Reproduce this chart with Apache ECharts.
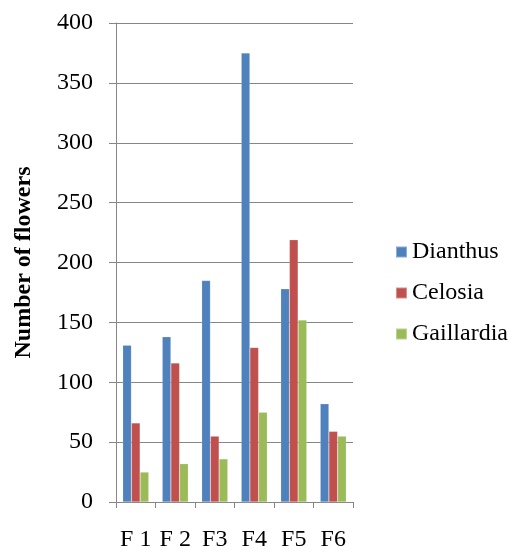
<!DOCTYPE html>
<html><head><meta charset="utf-8">
<script src="https://cdn.jsdelivr.net/npm/echarts@6/dist/echarts.min.js"></script>
<style>html,body{margin:0;padding:0;background:#fff}#c{width:508px;height:552px}</style>
</head><body><div id="c"></div>
<script>
var categories = ['F 1', 'F 2', 'F3', 'F4', 'F5', 'F6'];
var dianthus = [131, 138, 185, 375, 178, 82];
var celosia = [66, 116, 55, 129, 219, 59];
var gaillardia = [25, 32, 36, 75, 152, 55];
var yTicks = [0, 400, 50];

var font = '"Liberation Serif", "Times New Roman", serif';
var gridColor = '#868686';
var chart = echarts.init(document.getElementById('c'), null, {renderer: 'canvas'});
function bar(name, data, color) {
  return {name: name, type: 'bar', data: data, barGap: '0%', barCategoryGap: '34%',
    itemStyle: {color: color, borderColor: 'rgba(255,255,255,0.35)', borderWidth: 0.5}};
}
chart.setOption({
  animation: false,
  grid: {left: 116, right: 155, top: 23, bottom: 49, containLabel: false},
  legend: {
    orient: 'vertical', left: 390, top: 235, itemWidth: 11, itemHeight: 11, itemGap: 17,
    icon: 'rect',
    textStyle: {fontFamily: font, fontSize: 24, color: '#000', lineHeight: 22},
    data: ['Dianthus', 'Celosia', 'Gaillardia']
  },
  xAxis: {
    type: 'category', data: categories, boundaryGap: true,
    axisLine: {lineStyle: {color: gridColor, width: 1}},
    axisTick: {show: true, length: 6, alignWithLabel: false, lineStyle: {color: gridColor}},
    axisLabel: {fontFamily: font, fontSize: 24, color: '#000', margin: 26, interval: 0}
  },
  yAxis: {
    type: 'value', min: yTicks[0], max: yTicks[1], interval: yTicks[2],
    name: 'Number of flowers', nameLocation: 'middle', nameGap: 80, nameRotate: 90,
    nameTextStyle: {fontFamily: font, fontSize: 24, fontWeight: 'bold', color: '#000'},
    axisLine: {show: true, lineStyle: {color: gridColor, width: 1}},
    axisTick: {show: true, length: 7, lineStyle: {color: gridColor}},
    axisLabel: {fontFamily: font, fontSize: 24, color: '#000', margin: 23},
    splitLine: {show: true, lineStyle: {color: gridColor, width: 1}}
  },
  series: [
    bar('Dianthus', dianthus, '#4F81BD'),
    bar('Celosia', celosia, '#C0504D'),
    bar('Gaillardia', gaillardia, '#9BBB59')
  ]
});
</script></body></html>
